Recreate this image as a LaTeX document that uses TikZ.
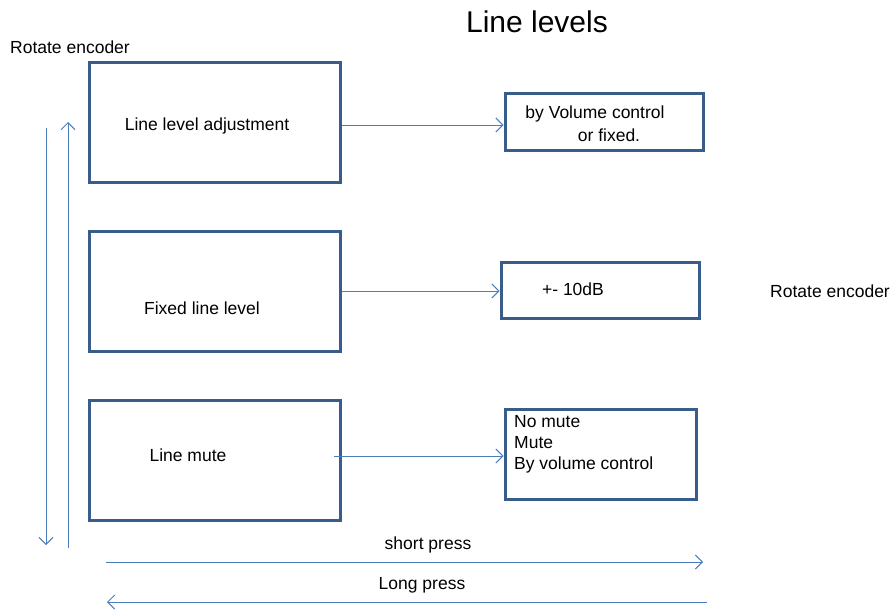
\documentclass[tikz,border=0pt]{standalone}
\usepackage{fontspec}
\setmainfont{Liberation Sans}
\usetikzlibrary{arrows.meta}
\definecolor{boxblue}{RGB}{56,93,138}
\definecolor{lineblue}{RGB}{74,126,187}
\begin{document}
\begin{tikzpicture}[x=1pt,y=-1pt]
    \tikzset{level box/.style={draw=boxblue,line width=3pt,minimum width=#1,inner sep=0pt},
             flow/.style={draw=lineblue,line width=1pt,-{Straight Barb[length=7pt,width=14pt]}},
             txt/.style={font=\fontsize{17.5}{21}\selectfont,inner sep=0pt}}

    \fill [white] (0,0) rectangle (891,610);

    \node [txt,font=\fontsize{30}{36}\selectfont] (title) at (537,22) {Line levels};
    \node [txt] (enc-left) at (70,47) {Rotate encoder};
    \node [txt] (enc-right) at (830,291) {Rotate encoder};

    \node [level box=251pt,minimum height=119pt] (adjust) at (214.5,122.5) {};
    \node [level box=251pt,minimum height=120pt] (fixed) at (214.5,291) {};
    \node [level box=251pt,minimum height=120pt] (mute) at (214.5,460) {};
    \node [txt] at (207,126) {Line level adjustment};
    \node [txt] at (202,308) {Fixed line level};
    \node [txt] at (188,455) {Line mute};

    \node [level box=198pt,minimum height=57pt] (volume) at (604,121.5) {};
    \node [level box=198pt,minimum height=56pt] (range) at (600,290) {};
    \node [level box=191pt,minimum height=90pt] (options) at (600.5,454) {};
    \node [txt] at (595,114) {by Volume control};
    \node [txt] at (609,135) {or fixed.};
    \node [txt] at (573,289) {+- 10dB};
    \node [txt,anchor=north west,align=left] at (514,415) {No mute\\Mute\\By volume control};

    \draw [flow] (adjust.east |- 0,125) -- (volume.west |- 0,125);
    \draw [flow] (fixed.east |- 0,291) -- (range.west |- 0,291);
    \draw [flow] (334,456) -- (options.west |- 0,456);

    \coordinate (down-top) at (46,128);
    \coordinate (down-end) at (46,545);
    \coordinate (up-start) at (68,548);
    \coordinate (up-end) at (68,122);
    \draw [flow] (down-top) -- (down-end);
    \draw [flow] (up-start) -- (up-end);

    \node [txt] (short) at (428,545) {short press};
    \node [txt] (long) at (422,585) {Long press};
    \coordinate (short-start) at (106,562);
    \coordinate (short-end) at (703,562);
    \coordinate (long-start) at (707,602);
    \coordinate (long-end) at (107,602);
    \draw [flow] (short-start) -- (short-end);
    \draw [flow] (long-start) -- (long-end);
  \end{tikzpicture}
\end{document}
